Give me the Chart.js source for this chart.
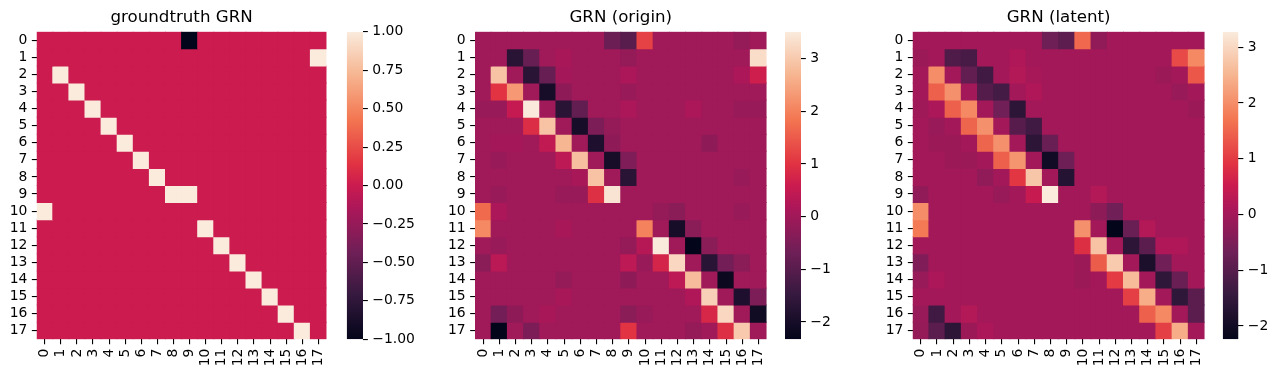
<!DOCTYPE html>
<html><head><meta charset="utf-8">
<script src="https://cdn.jsdelivr.net/npm/chart.js@4.4.1/dist/chart.umd.min.js"></script>
<style>
html,body{margin:0;padding:0;background:#fff;width:1278px;height:377px;overflow:hidden;position:relative}
canvas{position:absolute;top:0}
</style></head><body>
<canvas id="h1" width="340" height="377" style="left:0px;width:340px;height:377px"></canvas>
<canvas id="c1" width="100" height="377" style="left:340px;width:100px;height:377px"></canvas>
<canvas id="h2" width="350" height="377" style="left:430px;width:350px;height:377px"></canvas>
<canvas id="c2" width="80" height="377" style="left:780px;width:80px;height:377px"></canvas>
<canvas id="h3" width="350" height="377" style="left:868px;width:350px;height:377px"></canvas>
<canvas id="c3" width="61" height="377" style="left:1217px;width:61px;height:377px"></canvas>
<script>
const rowLabels = ['0','1','2','3','4','5','6','7','8','9','10','11','12','13','14','15','16','17'];
const colLabels = ['0','1','2','3','4','5','6','7','8','9','10','11','12','13','14','15','16','17'];
const titles = ['groundtruth GRN', 'GRN (origin)', 'GRN (latent)'];

const groundtruth = [
 [0,0,0,0,0,0,0,0,0,-1,0,0,0,0,0,0,0,0],
 [0,0,0,0,0,0,0,0,0,0,0,0,0,0,0,0,0,1],
 [0,1,0,0,0,0,0,0,0,0,0,0,0,0,0,0,0,0],
 [0,0,1,0,0,0,0,0,0,0,0,0,0,0,0,0,0,0],
 [0,0,0,1,0,0,0,0,0,0,0,0,0,0,0,0,0,0],
 [0,0,0,0,1,0,0,0,0,0,0,0,0,0,0,0,0,0],
 [0,0,0,0,0,1,0,0,0,0,0,0,0,0,0,0,0,0],
 [0,0,0,0,0,0,1,0,0,0,0,0,0,0,0,0,0,0],
 [0,0,0,0,0,0,0,1,0,0,0,0,0,0,0,0,0,0],
 [0,0,0,0,0,0,0,0,1,1,0,0,0,0,0,0,0,0],
 [1,0,0,0,0,0,0,0,0,0,0,0,0,0,0,0,0,0],
 [0,0,0,0,0,0,0,0,0,0,1,0,0,0,0,0,0,0],
 [0,0,0,0,0,0,0,0,0,0,0,1,0,0,0,0,0,0],
 [0,0,0,0,0,0,0,0,0,0,0,0,1,0,0,0,0,0],
 [0,0,0,0,0,0,0,0,0,0,0,0,0,1,0,0,0,0],
 [0,0,0,0,0,0,0,0,0,0,0,0,0,0,1,0,0,0],
 [0,0,0,0,0,0,0,0,0,0,0,0,0,0,0,1,0,0],
 [0,0,0,0,0,0,0,0,0,0,0,0,0,0,0,0,1,0]
];

const grnOrigin = [
 [0,0,0,0,0,0,0,0,-0.75,-1.0,1.2,0,0,0,0,0,-0.15,0],
 [0,0,-1.7,-0.8,0,0.1,0,0,0,-0.15,0,0,0,0,0,0,0,3.3],
 [0,2.9,0,-1.7,-0.8,0.05,0,0,0,0.15,0,0,0,0,0,0,0.15,0.65],
 [0,1.0,2.3,0,-2.0,-0.25,0,0,0,-0.1,0,0,0,0,0,0,0,0],
 [-0.1,-0.1,0.5,3.5,0,-1.7,-0.85,0,0,0.15,0,0,0,0.15,0,0,-0.1,-0.1],
 [0,0,0,0.9,2.9,0,-2.0,-0.5,-0.15,0,0,0,0,0,0,0,0,0],
 [0,0.05,0.05,0,0.45,2.7,0,-1.9,-0.25,0,0,0,0,0,-0.25,0,0,0],
 [0,-0.1,0,0,0,0.4,2.85,0,-2.0,-0.45,0,0,0,0,0,0,0,0],
 [0,0,0,0,0,0,0.1,2.9,0,-1.7,0,0,0,0,0,0,-0.1,0],
 [0,-0.1,0,0,0,-0.1,-0.1,0.95,3.4,0,0,0,0,0,0,0,0,0],
 [1.7,0.15,0,0,0,0,0,0,0,0,0,-0.15,-0.3,0,0,0,-0.1,0],
 [2.1,0,0,0,0,0.1,0,0,0,0,2.0,0,-2.0,-0.3,0,0,0,0],
 [0,-0.1,0,0,0,0,0,0,0,-0.15,0.3,3.5,0,-2.33,-0.3,0,0,0],
 [-0.3,0.35,0,0,0,0,0,0,0,0.4,-0.1,0.75,3.2,0,-1.7,-0.6,-0.3,0],
 [0,0,0,0,0,-0.15,0,0,0,-0.25,0,0,0.4,2.8,0,-2.2,0,0],
 [0,0,0,0,0,0.1,0,0,0,0,0,0,0,0.2,3.1,0,-1.9,-0.5],
 [0,-0.6,-0.25,0,0.1,0,0,0,0,-0.3,-0.1,0,0,0,0.8,3.2,0,-2.1],
 [0,-2.33,0,-0.5,0,0,0,0,0,1.0,0,0,0,-0.15,0,0.95,3.0,0]
];

const grnLatent = [
 [0,0,0,0,0,0,0,0,-0.7,-0.9,1.55,-0.25,0,0,0,0,0,0],
 [-0.1,0,-1.1,-1.2,0,0,0.15,0,0,0,0,0,0,0,0,0,1.2,1.95],
 [0,2.0,0,-0.85,-1.3,0,0.2,0.05,0,0,0,0,0,0,0,-0.1,0,1.35],
 [0,1.45,2.05,0,-1.05,-1.25,0,0.15,0,0,0,0,0,0,0,0,-0.15,0],
 [-0.05,0.1,1.45,1.95,0,-0.65,-1.6,0,0,0,0,0,0,0,0,0,0,-0.1],
 [0,-0.15,0,1.5,2.05,0,-1.0,-1.3,0,0,0,0,0,0,0,0,0,0],
 [0,-0.1,-0.1,0,1.5,2.05,0,-1.6,-0.75,0,0,0,0,0,0,0,0,0],
 [0,0,-0.1,-0.1,0,1.45,2.1,0,-2.0,-0.7,0,0,0,0,0,0,0,0],
 [0,0,0,0,-0.25,0,0.95,2.75,0,-1.7,0,0,0,0,0,0,0,0],
 [-0.25,0,0,0,0,-0.15,0,0.45,3.28,0,0,0.2,0,0,0,0,0,0],
 [2.0,0,0,0,0,0,0,0,0,0,0,-0.3,-0.65,0,0,0,0,0],
 [1.75,0,0,0,0,0,0,0,0,0,2.05,0,-2.24,-0.75,0.2,0,0,0],
 [0,0,0,0,0,0,0,0,0,0,0.85,2.7,0,-1.6,-0.95,0.15,0.15,0],
 [-0.45,0,0,0,0,0,0,0,0,0,-0.1,1.4,2.8,0,-1.85,-0.65,0,0],
 [-0.15,0.1,0,0,0,0,0,0,0,0,-0.1,0,1.0,2.6,0,-1.55,-0.75,0],
 [0,0,0,0,0,0,0,0,0,0,0,0,0,1.05,2.4,0,-1.55,-0.95],
 [-0.15,-1.3,0,0.2,0,0,0,0,0,0,0,0,0,0,1.45,1.95,0,-0.95],
 [-0.2,-0.95,-1.6,-0.1,0.1,0,0,0,0,0,0,0,0,0,0,1.05,2.4,0]
];

const ranges = [[-1, 1], [-2.33, 3.51], [-2.24, 3.28]];
const cbTicks1 = [-1, -0.75, -0.5, -0.25, 0, 0.25, 0.5, 0.75, 1];
const cbTicks2 = [-2, -1, 0, 1, 2, 3];
const cbTicks3 = [-2, -1, 0, 1, 2, 3];

// seaborn "rocket" colormap anchors
const ROCKET = [
 [0/7, 3,5,26],[1/7, 53,25,62],[2/7, 112,31,87],[3/7, 173,23,89],[0.5, 203,27,79],
 [4/7, 225,51,66],[5/7, 243,118,81],[6/7, 246,180,143],[1, 250,235,221]
];
function rocket(t){
  t = Math.max(0, Math.min(1, t));
  for (let k = 1; k < ROCKET.length; k++) {
    if (t <= ROCKET[k][0]) {
      const a = ROCKET[k-1], b = ROCKET[k];
      const u = (t - a[0]) / (b[0] - a[0]);
      const c = [1,2,3].map(n => Math.round(a[n] + (b[n]-a[n]) * u));
      return `rgb(${c[0]},${c[1]},${c[2]})`;
    }
  }
  return 'rgb(250,235,221)';
}

const FONT = 'DejaVu Sans';
const TICK = 13.9, TL = 4.86;

function heatmap(id, matrix, range, title, yWidth, padRight) {
  const [vmin, vmax] = range;
  const datasets = rowLabels.map((r, i) => ({
    data: colLabels.map(() => [i, i + 1]),
    backgroundColor: colLabels.map((c, j) => rocket((matrix[i][j] - vmin) / (vmax - vmin))),
    borderWidth: 0, grouped: false, barPercentage: 1, categoryPercentage: 1, inflateAmount: 0.5
  }));
  new Chart(document.getElementById(id), {
    type: 'bar',
    data: { labels: colLabels, datasets },
    options: {
      responsive: false, animation: false, devicePixelRatio: 1,
      layout: { padding: { left: 0, right: padRight, top: 0, bottom: 0 } },
      plugins: {
        legend: { display: false }, tooltip: { enabled: false },
        title: { display: true, text: title, fullSize: false, color: '#000',
          font: { family: FONT, size: 16.67, weight: 'normal' }, padding: { top: 8.1, bottom: 3.6 } }
      },
      scales: {
        x: { type: 'category', offset: true,
          grid: { offset: false, drawOnChartArea: false, drawTicks: true, tickLength: TL, color: '#000', lineWidth: 1.1 },
          border: { display: false },
          ticks: { color: '#000', font: { family: FONT, size: TICK }, minRotation: 90, maxRotation: 90, padding: 4.5, autoSkip: false },
          afterFit: s => { s.height = 37.7; } },
        y: { type: 'linear', min: 0, max: rowLabels.length, reverse: true,
          afterBuildTicks: s => { s.ticks = rowLabels.map((r, i) => ({ value: i + 0.5 })); },
          grid: { drawOnChartArea: false, drawTicks: true, tickLength: TL, color: '#000', lineWidth: 1.1 },
          border: { display: false },
          ticks: { color: '#000', font: { family: FONT, size: TICK }, padding: 4.5, autoSkip: false,
            callback: (v, i) => rowLabels[i] },
          afterFit: s => { s.width = yWidth; } }
      }
    }
  });
}

function fmtMinus(s){ return s.replace('-', '\u2212'); }

function colorbar(id, range, ticks, fmt, padLeft, scaleWidth) {
  const [vmin, vmax] = range;
  new Chart(document.getElementById(id), {
    type: 'bar',
    data: { labels: [''], datasets: [{
      data: [[vmin, vmax]],
      backgroundColor: (ctx) => {
        const ch = ctx.chart, y = ch.scales && ch.scales.y;
        if (!y || !ch.chartArea) return 'rgb(161,26,91)';
        const g = ch.ctx.createLinearGradient(0, y.getPixelForValue(vmin), 0, y.getPixelForValue(vmax));
        ROCKET.forEach(a => g.addColorStop(a[0], `rgb(${a[1]},${a[2]},${a[3]})`));
        return g;
      },
      borderWidth: 0, barPercentage: 1, categoryPercentage: 1, inflateAmount: 0
    }]},
    options: {
      responsive: false, animation: false, devicePixelRatio: 1,
      layout: { padding: { left: padLeft, right: 0, top: 31.7, bottom: 37.7 } },
      plugins: { legend: { display: false }, tooltip: { enabled: false } },
      scales: {
        x: { display: false },
        y: { position: 'right', min: vmin, max: vmax,
          afterBuildTicks: s => { s.ticks = ticks.map(v => ({ value: v })); },
          grid: { drawOnChartArea: false, drawTicks: true, tickLength: TL, color: '#000', lineWidth: 1.1 },
          border: { display: false },
          ticks: { color: '#000', font: { family: FONT, size: TICK }, padding: 4.5, autoSkip: false,
            callback: (v, i) => fmt(ticks[i]) },
          afterFit: s => { s.width = scaleWidth; } }
      }
    }
  });
}

heatmap('h1', groundtruth, ranges[0], titles[0], 36.7, 10.7);
heatmap('h2', grnOrigin, ranges[1], titles[1], 45, 12.5);
heatmap('h3', grnLatent, ranges[2], titles[2], 44.7, 13);
colorbar('c1', ranges[0], cbTicks1, v => fmtMinus(v.toFixed(2)), 6.7, 77);
colorbar('c2', ranges[1], cbTicks2, v => fmtMinus(String(v)), 5, 59);
colorbar('c3', ranges[2], cbTicks3, v => fmtMinus(String(v)), 5.7, 39.5);
</script>
</body></html>
